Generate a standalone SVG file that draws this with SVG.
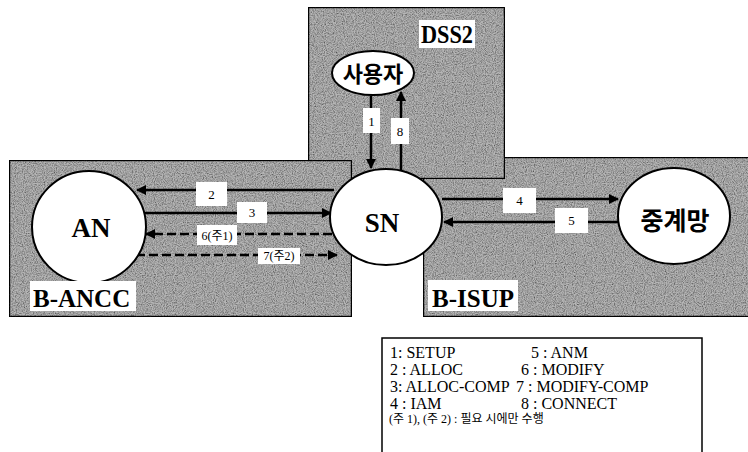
<svg xmlns="http://www.w3.org/2000/svg" width="748" height="452" viewBox="0 0 748 452">
<style>
.panel{fill:#b6b6b6;stroke:#111;stroke-width:2.5;filter:url(#tex)}
.node{fill:#fff;stroke:#000;stroke-width:2}
.nt{font-family:"Liberation Serif","Noto Sans CJK KR",serif;font-weight:bold;fill:#000;text-anchor:middle}
.kt{font-family:"Noto Sans CJK KR",sans-serif;font-weight:bold;fill:#000;text-anchor:middle}
.lbbox{fill:#fff;stroke:none}
.lb{font-family:"Liberation Serif","Noto Sans CJK KR",serif;font-size:13px;fill:#000;text-anchor:middle}
.pl{font-family:"Liberation Serif",serif;font-weight:bold;font-size:25px;fill:#000}
.line{stroke:#000;stroke-width:2.5;fill:none}
.dash{stroke-dasharray:9 4}
.lg{font-family:"Liberation Serif",serif;font-size:16px;fill:#000}
.lgk{font-family:"Liberation Serif","Noto Sans CJK KR",serif;font-size:12px;fill:#000}
</style>
<defs>
<filter id="tex" x="0" y="0" width="100%" height="100%">
<feTurbulence type="fractalNoise" baseFrequency="0.9" numOctaves="2" seed="4" result="n"/>
<feColorMatrix in="n" type="matrix" values="0 0 0 0 0  0 0 0 0 0  0 0 0 0 0  1.5 0 0 0 -0.5" result="dark"/>
<feComposite in="dark" in2="SourceGraphic" operator="in" result="dk"/>
<feMerge><feMergeNode in="SourceGraphic"/><feMergeNode in="dk"/></feMerge>
</filter>
<marker id="ah" viewBox="0 0 10 10" refX="9" refY="5" markerWidth="4" markerHeight="4" orient="auto-start-reverse">
<path d="M0,0 L10,5 L0,10 z" fill="#000"/>
</marker>
</defs>

<g id="panels">
<rect id="panel-bisup" class="panel" x="423" y="157" width="330" height="160"/>
<rect id="panel-dss2" class="panel" x="308" y="7" width="197" height="172"/>
<rect id="panel-bancc" class="panel" x="9" y="160" width="343" height="157"/>
</g>

<g id="connectors">
<line class="line" x1="371" y1="96" x2="371" y2="168" marker-end="url(#ah)"/>
<line class="line" x1="401" y1="171" x2="401" y2="92" marker-end="url(#ah)"/>
<line class="line" x1="334" y1="190" x2="137" y2="190" marker-end="url(#ah)"/>
<line class="line" x1="144" y1="213" x2="331" y2="213" marker-end="url(#ah)"/>
<line class="line dash" x1="332" y1="234" x2="146" y2="234" marker-end="url(#ah)"/>
<line class="line dash" x1="136" y1="255" x2="337" y2="255" marker-end="url(#ah)"/>
<line class="line" x1="442" y1="199" x2="618" y2="199" marker-end="url(#ah)"/>
<line class="line" x1="618" y1="222" x2="444" y2="222" marker-end="url(#ah)"/>
</g>

<g id="edge-labels">
<rect class="lbbox" x="363" y="108" width="17" height="25"/><text class="lb" x="371.5" y="126">1</text>
<rect class="lbbox" x="391" y="118" width="18" height="26"/><text class="lb" x="400" y="136">8</text>
<rect class="lbbox" x="196" y="182" width="31" height="24"/><text class="lb" x="211.5" y="199">2</text>
<rect class="lbbox" x="237" y="202" width="30" height="21"/><text class="lb" x="252" y="217">3</text>
<rect class="lbbox" x="197" y="225" width="40" height="20"/><text class="lb" x="217" y="240" style="font-size:12px">6(주1)</text>
<rect class="lbbox" x="258" y="248" width="42" height="16"/><text class="lb" x="279" y="260" style="font-size:12px">7(주2)</text>
<rect class="lbbox" x="503" y="188" width="33" height="25"/><text class="lb" x="519.5" y="205">4</text>
<rect class="lbbox" x="555" y="208" width="33" height="25"/><text class="lb" x="571.5" y="225">5</text>
</g>

<g id="node-user">
<ellipse class="node" cx="373" cy="73" rx="41" ry="22"/>
<text class="kt" x="373" y="82" font-size="22">사용자</text>
</g>
<g id="node-sn">
<ellipse class="node" cx="386" cy="217" rx="56" ry="48"/>
<text class="nt" x="382" y="232" font-size="27">SN</text>
</g>
<g id="node-an">
<ellipse class="node" cx="89" cy="227" rx="57" ry="56"/>
<text class="nt" x="91" y="237" font-size="27">AN</text>
</g>
<g id="node-relay">
<ellipse class="node" cx="674" cy="216" rx="56" ry="48"/>
<text class="kt" x="675" y="230" font-size="25">중계망</text>
</g>

<g id="panel-labels">
<rect class="lbbox" x="419" y="20" width="56" height="28"/>
<text class="pl" x="421" y="43" font-size="24" textLength="52" lengthAdjust="spacingAndGlyphs">DSS2</text>
<rect class="lbbox" x="30" y="281" width="106" height="30"/>
<text class="pl" x="33" y="307">B-ANCC</text>
<rect class="lbbox" x="428" y="280" width="90" height="31"/>
<text class="pl" x="432" y="307">B-ISUP</text>
</g>

<g id="legend">
<rect x="382" y="338" width="320" height="116" fill="#fff" stroke="#000" stroke-width="1.5"/>
<text class="lg" x="390" y="358">1: SETUP</text>
<text class="lg" x="390" y="375">2 : ALLOC</text>
<text class="lg" x="390" y="392">3: ALLOC-COMP</text>
<text class="lg" x="390" y="409">4 : IAM</text>
<text class="lg" x="531" y="358">5 : ANM</text>
<text class="lg" x="521" y="375">6 : MODIFY</text>
<text class="lg" x="516" y="392">7 : MODIFY-COMP</text>
<text class="lg" x="521" y="409">8 : CONNECT</text>
<text class="lgk" x="389" y="423">(주 1), (주 2) : 필요 시에만 수행</text>
</g>
</svg>
